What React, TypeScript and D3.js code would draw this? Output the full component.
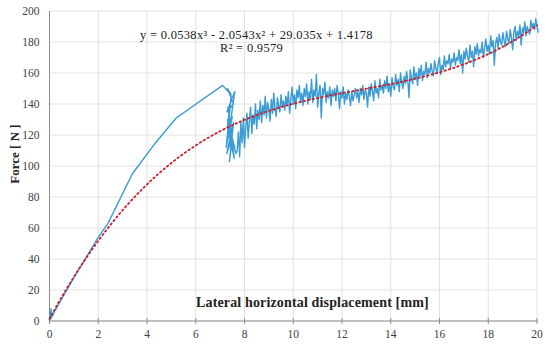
import React from "react";
import * as d3 from "d3";

// start of test: tiny noise at origin, then the smooth loading ramp
const rampPts: [number, number][] = [
  [0, 0], [0.02, 6], [0.04, 1], [0.06, 8], [0.08, 2], [0.1, 5], [0.12, 3],
  [0.2, 6], [1, 28], [2, 54], [2.4, 63], [3.4, 95], [4.3, 114], [5.2, 131], [7.1, 152],
];

// vertical scatter band right after the peak
const bandPts: [number, number][] = [
  [7.45, 146], [7.3, 150], [7.55, 140], [7.28, 135], [7.6, 148], [7.35, 120],
  [7.5, 132], [7.25, 112], [7.45, 145], [7.3, 125], [7.58, 105], [7.32, 138],
  [7.5, 118], [7.27, 108], [7.55, 128], [7.38, 103], [7.48, 115], [7.3, 130],
  [7.6, 112], [7.4, 122], [7.65, 108],
];

// noisy force readings from x = 7.7 mm, step 0.05 mm
const noiseStart = 7.7;
const noiseStep = 0.05;
const noiseVals = [
  110, 122, 106, 128, 115, 131, 112, 125, 134, 118, 129, 138, 121, 133, 127, 140, 124, 136, 130, 142,
  128, 139, 133, 145, 131, 141, 136, 129, 143, 134, 147, 137, 132, 144, 139, 135, 146, 138, 142, 136,
  145, 139, 148, 134, 143, 151, 140, 146, 137, 149, 144, 152, 141, 147, 139, 150, 145, 153, 140, 148,
  143, 156, 141, 149, 145, 159, 138, 147, 152, 131, 150, 146, 154, 141, 148, 144, 151, 139, 149, 145,
  150, 142, 152, 146, 137, 148, 144, 151, 140, 147, 143, 149, 145, 139, 148, 142, 146, 150, 144, 148,
  141, 150, 146, 152, 143, 149, 147, 138, 151, 145, 153, 148, 142, 155, 147, 150, 144, 156, 149, 152,
  147, 155, 150, 158, 148, 153, 145, 157, 151, 149, 159, 152, 156, 148, 160, 154, 150, 158, 153, 161,
  155, 144, 162, 157, 153, 164, 156, 160, 152, 163, 158, 165, 155, 161, 159, 167, 157, 163, 160, 166,
  161, 158, 168, 163, 160, 166, 170, 159, 165, 162, 171, 164, 168, 166, 172, 163, 169, 167, 173, 165,
  170, 168, 175, 166, 172, 160, 174, 169, 176, 171, 167, 178, 170, 174, 164, 177, 172, 179, 171, 175,
  173, 180, 170, 176, 182, 174, 178, 172, 184, 177, 181, 165, 179, 183, 176, 185, 180, 178, 186, 181,
  177, 187, 182, 179, 188, 183, 175, 186, 190, 181, 187, 184, 191, 178, 189, 186, 193, 184, 190, 187,
  185, 194, 189, 192, 188, 195, 190, 186,
];

// cubic trendline coefficients (as printed on the chart)
const coef = [1.4178, 29.035, -2.0543, 0.0538];
const xTicks = [0, 2, 4, 6, 8, 10, 12, 14, 16, 18, 20];
const yTicks = [0, 20, 40, 60, 80, 100, 120, 140, 160, 180, 200];

export default function App() {
  const width = 550;
  const height = 346;
  const serif = "'Liberation Serif', 'Times New Roman', serif";

  const x = d3.scaleLinear().domain([0, 20]).range([49.5, 537]);
  const y = d3.scaleLinear().domain([0, 200]).range([321, 11]);

  const noisePts: [number, number][] = noiseVals.map((v, i) => [noiseStart + i * noiseStep, v]);
  const measured = [...rampPts, ...bandPts, ...noisePts];

  const line = d3
    .line<[number, number]>()
    .x((d) => x(d[0]))
    .y((d) => y(d[1]));

  const trend: [number, number][] = d3
    .range(0, 20.001, 0.1)
    .map((t) => [t, coef[0] + coef[1] * t + coef[2] * t * t + coef[3] * t * t * t]);

  return (
    <svg
      width={width}
      height={height}
      style={{ position: "absolute", left: 0, top: 0, background: "#fff" }}
      fontFamily={serif}
    >
      {/* grid */}
      {yTicks.map((t) => (
        <line key={"gy" + t} x1={x(0)} x2={x(20)} y1={y(t)} y2={y(t)} stroke="#e2e2e2" strokeWidth={1} />
      ))}
      {xTicks.map((t) => (
        <line key={"gx" + t} x1={x(t)} x2={x(t)} y1={y(0)} y2={y(200)} stroke="#e2e2e2" strokeWidth={1} />
      ))}

      {/* axes */}
      <line x1={x(0)} x2={x(0)} y1={y(0)} y2={y(200)} stroke="#8c8c8c" strokeWidth={1} />
      <line x1={x(0)} x2={x(20)} y1={y(0)} y2={y(0)} stroke="#8c8c8c" strokeWidth={1} />
      {xTicks.map((t) => (
        <line key={"tx" + t} x1={x(t)} x2={x(t)} y1={y(0) - 3} y2={y(0) + 3} stroke="#8c8c8c" strokeWidth={1} />
      ))}

      {yTicks.map((t) => (
        <text key={"ly" + t} x={x(0) - 10} y={y(t)} dy="0.35em" textAnchor="end" fontSize={11.5} fill="#404040">
          {t}
        </text>
      ))}
      {xTicks.map((t) => (
        <text key={"lx" + t} x={x(t)} y={y(0) + 17} textAnchor="middle" fontSize={11.5} fill="#404040">
          {t}
        </text>
      ))}

      {/* measured curve */}
      <path d={line(measured) ?? ""} fill="none" stroke="#3a9bd5" strokeWidth={1.4} strokeLinejoin="round" />

      {/* trendline */}
      <path
        d={line(trend) ?? ""}
        fill="none"
        stroke="#c81e2a"
        strokeWidth={1.8}
        strokeDasharray="1.5,3"
        strokeLinecap="round"
      />

      {/* titles */}
      <text
        transform={`translate(19, 154) rotate(-90)`}
        textAnchor="middle"
        fontSize={13}
        fontWeight="bold"
        fill="#222"
      >
        Force [ N ]
      </text>
      <text x={196} y={307} fontSize={14} letterSpacing={0.15} fontWeight="bold" fill="#222">
        Lateral horizontal displacement [mm]
      </text>

      <text x={140} y={38.5} fontSize={12.5} letterSpacing={0.3} fill="#222">
        y = 0.0538x³ - 2.0543x² + 29.035x + 1.4178
      </text>
      <text x={220} y={52} fontSize={12.5} letterSpacing={0.3} fill="#222">
        R² = 0.9579
      </text>
    </svg>
  );
}
